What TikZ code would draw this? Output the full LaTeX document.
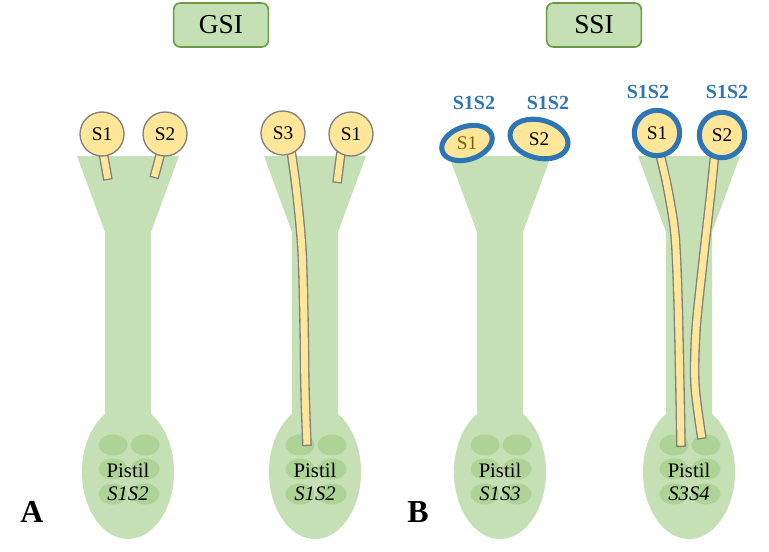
\documentclass[tikz,border=0pt]{standalone}
\usepackage{fontspec}
\setmainfont{Liberation Serif}
\usetikzlibrary{shapes.geometric}
\definecolor{pist}{HTML}{C5E0B4}
\definecolor{ovul}{HTML}{ADD396}
\definecolor{pol}{HTML}{FFE699}
\definecolor{polb}{HTML}{7F7F7F}
\definecolor{ringc}{HTML}{2E75B6}
\definecolor{boxb}{HTML}{6A9A45}
\definecolor{olive}{HTML}{7F6000}
\tikzset{
  titlebox/.style={draw=boxb, line width=1.2pt, fill=pist, rounded corners=5pt,
    minimum width=71pt, minimum height=33pt, font=\fontsize{20.5}{22}\selectfont},
  pollen/.style={circle, draw=polb, fill=pol, line width=1pt, minimum size=33pt,
    inner sep=0pt, font=\fontsize{14.5}{16}\selectfont},
  ringpollen/.style={pollen, draw=ringc, line width=3.8pt, minimum size=34pt},
  ringlabel/.style={text=ringc, font=\fontsize{15}{17}\selectfont\bfseries},
  tubeout/.style={draw=polb, line width=7.2pt, line cap=butt, line join=round},
  tubein/.style={draw=pol, line width=5.2pt, line cap=butt, line join=round,
    shorten <=1pt, shorten >=1pt},
  pistiltext/.style={font=\fontsize{15.5}{17}\selectfont},
  panel/.style={font=\fontsize{24}{26}\selectfont\bfseries},
  pics/pistil/.style n args={2}{code={
    \fill[pist] (-51,156) -- (51,156) -- (23,232) -- (23,420) -- (-23,420) -- (-23,232) -- cycle;
    \fill[pist] (0,472) ellipse [x radius=46, y radius=67];
    \foreach \dx/\dy in {-15/445, 17/445, -15/469, 17/469, -15/494, 17/494}
      \fill[ovul] (\dx,\dy) ellipse [x radius=14.5, y radius=10.5];
    \node[pistiltext] (-name) at (0,470) {Pistil};
    \node[pistiltext] (-geno) at (0,494) {\itshape #2};
  }}
}
\begin{document}
\begin{tikzpicture}[x=0.75pt, y=-0.75pt]
\useasboundingbox (0,0) rectangle (769,551);

% title boxes
\node[titlebox] (gsi) at (221,25) {GSI};
\node[titlebox] (ssi) at (594,25) {SSI};

% pistils
\pic (pA) at (128,0) {pistil={A}{S1S2}};
\pic (pB) at (315,0) {pistil={B}{S1S2}};
\pic (pC) at (500,0) {pistil={C}{S1S3}};
\pic (pD) at (689,0) {pistil={D}{S3S4}};

% pollen tubes
\draw[tubeout] (103,152) -- (108,180);
\draw[tubein]  (103,152) -- (108,180);
\draw[tubeout] (161,152) -- (154,178);
\draw[tubein]  (161,152) -- (154,178);
\draw[tubeout] (341,152) -- (337,183);
\draw[tubein]  (341,152) -- (337,183);
\draw[tubeout] plot[smooth] coordinates {(291,150) (297,195) (302,250) (304,320) (305,390) (307,446)};
\draw[tubein]  plot[smooth] coordinates {(291,150) (297,195) (302,250) (304,320) (305,390) (307,446)};
\draw[tubeout] plot[smooth] coordinates {(659,150) (668,190) (675,235) (678,300) (680,390) (681,447)};
\draw[tubein]  plot[smooth] coordinates {(659,150) (668,190) (675,235) (678,300) (680,390) (681,447)};
\draw[tubeout] plot[smooth] coordinates {(715,152) (710,200) (703,262) (696,330) (695,385) (702,439)};
\draw[tubein]  plot[smooth] coordinates {(715,152) (710,200) (703,262) (696,330) (695,385) (702,439)};

% GSI pollen
\node[pollen] (a1) at (102,134) {S1};
\node[pollen] (a2) at (165,134) {S2};
\node[pollen] (b3) at (283,133) {S3};
\node[pollen] (b1) at (351,134) {S1};

% SSI pollen, left pistil (tilted)
\draw[draw=ringc, fill=pol, line width=3.8pt, rotate around={18:(467,143)}] (467,143) ellipse [x radius=26, y radius=16.5];
\node[font=\fontsize{14.5}{16}\selectfont, text=olive] (c1) at (467,143) {S1};
\draw[draw=ringc, fill=pol, line width=3.8pt, rotate around={-14:(539,139)}] (539,139) ellipse [x radius=29.5, y radius=19];
\node[font=\fontsize{14.5}{16}\selectfont] (c2) at (539,139) {S2};
\node[ringlabel] (lc1) at (474,103) {S1S2};
\node[ringlabel] (lc2) at (548,103) {S1S2};

% SSI pollen, right pistil
\node[ringpollen] (d1) at (657,133) {S1};
\node[ringpollen] (d2) at (722,135) {S2};
\node[ringlabel] (ld1) at (648,92) {S1S2};
\node[ringlabel] (ld2) at (727,92) {S1S2};

% panel letters
\node[panel] (A) at (32,512) {A};
\node[panel] (B) at (418,512) {B};
\end{tikzpicture}
\end{document}
